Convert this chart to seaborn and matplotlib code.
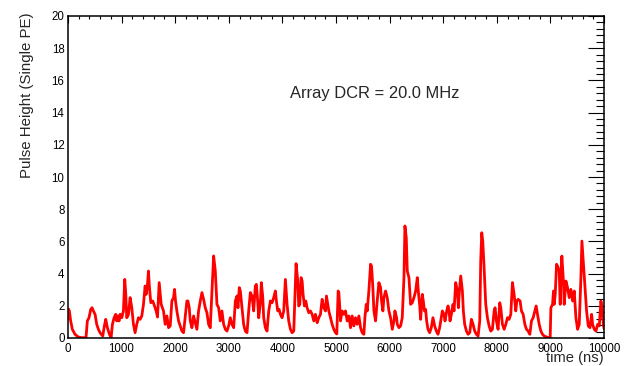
import numpy as np
import pandas as pd
import matplotlib
matplotlib.use('Agg')
import matplotlib.pyplot as plt
from matplotlib.ticker import MultipleLocator
import seaborn as sns

# waveform, one row per microsecond
time_ns = [
    0, 10, 25, 50, 81, 130, 193, 255, 336, 361, 392, 424, 449, 474, 505, 536, 567, 598, 648, 679, 704, 735, 773, 804, 829, 860, 891, 910, 928, 953, 972,
    1003, 1034, 1059, 1078, 1096, 1128, 1159, 1190, 1221, 1252, 1283, 1314, 1346, 1377, 1408, 1439, 1458, 1483, 1501, 1520, 1545, 1582, 1614, 1645, 1670, 1701, 1739, 1782, 1813, 1845, 1876, 1907, 1938, 1969, 1988,
    2006, 2031, 2063, 2125, 2156, 2218, 2237, 2262, 2281, 2312, 2343, 2374, 2405, 2436, 2468, 2499, 2530, 2561, 2592, 2623, 2654, 2686, 2717, 2748, 2779, 2810, 2841, 2872, 2904, 2935, 2966, 2997,
    3028, 3059, 3091, 3122, 3153, 3171, 3196, 3215, 3246, 3277, 3308, 3340, 3371, 3402, 3433, 3464, 3495, 3514, 3539, 3558, 3589, 3607, 3632, 3651, 3682, 3713, 3745, 3776, 3807, 3838, 3869, 3888, 3913, 3938, 3963, 3994,
    4025, 4056, 4087, 4118, 4150, 4181, 4212, 4255, 4287, 4305, 4324, 4349, 4368, 4386, 4411, 4436, 4461, 4492, 4523, 4555, 4586, 4617, 4648, 4679, 4710, 4741, 4773, 4804, 4822, 4847, 4866, 4897, 4928, 4959, 4991,
    5015, 5040, 5053, 5071, 5084, 5115, 5146, 5177, 5209, 5240, 5271, 5302, 5333, 5364, 5395, 5427, 5458, 5489, 5520, 5539, 5564, 5582, 5613, 5645, 5663, 5688, 5707, 5738, 5769, 5800, 5832, 5850, 5875, 5894, 5925, 5956, 5987,
    6018, 6050, 6081, 6099, 6131, 6143, 6174, 6205, 6236, 6268, 6286, 6311, 6330, 6361, 6392, 6423, 6455, 6486, 6517, 6535, 6560, 6579, 6610, 6629, 6650, 6672, 6691, 6716, 6747, 6778, 6809, 6841, 6872, 6903, 6934, 6965, 6984,
    7015, 7034, 7065, 7090, 7109, 7127, 7152, 7183, 7202, 7233, 7264, 7283, 7302, 7327, 7358, 7376, 7401, 7433, 7464, 7495, 7526, 7557, 7588, 7619, 7651, 7682, 7700, 7719, 7738, 7763, 7794, 7825, 7856, 7887, 7918, 7950, 7968, 7993,
    8024, 8055, 8074, 8105, 8137, 8168, 8199, 8230, 8261, 8292, 8323, 8354, 8373, 8398, 8435, 8460, 8492, 8523, 8554, 8585, 8616, 8647, 8678, 8710, 8734, 8759, 8791, 8822, 8853, 8884, 8946, 8996,
    9009, 9040, 9058, 9071, 9090, 9115, 9133, 9164, 9183, 9196, 9214, 9239, 9258, 9289, 9320, 9351, 9382, 9414, 9445, 9476, 9507, 9538, 9569, 9588, 9613, 9632, 9650, 9675, 9706, 9738, 9769, 9787, 9819, 9850, 9881, 9912, 9943, 9962, 9987, 10000,
]

pulse_pe = [
    1.20, 1.80, 1.68, 1.06, 0.54, 0.23, 0.06, 0.02, 0.02, 1.06, 1.26, 1.78, 1.88, 1.68, 1.47, 0.85, 0.54, 0.33, 0.12, 0.75, 1.16, 0.64, 0.23, 0.02, 0.85, 1.26, 1.47, 1.06, 1.37, 1.06, 1.47,
    1.26, 1.68, 3.64, 2.71, 1.26, 1.47, 2.51, 1.88, 0.85, 0.33, 0.85, 1.26, 1.16, 1.37, 2.09, 3.23, 2.71, 3.33, 4.16, 3.13, 2.19, 2.30, 1.99, 1.68, 1.30, 3.44, 2.09, 1.68, 0.85, 1.37, 0.64, 0.75, 2.30, 2.51, 3.02,
    2.30, 1.68, 1.06, 0.43, 0.33, 2.30, 2.30, 1.88, 1.06, 0.64, 1.37, 0.95, 0.54, 1.68, 2.30, 2.82, 2.40, 1.88, 1.57, 0.85, 0.64, 2.92, 5.10, 4.16, 2.09, 1.88, 1.06, 1.68, 0.85, 0.54, 0.43, 0.75,
    1.26, 0.85, 0.64, 2.30, 2.61, 1.88, 3.13, 2.92, 1.88, 0.85, 0.43, 0.33, 1.68, 2.82, 2.61, 1.68, 3.23, 3.33, 2.30, 1.26, 2.19, 3.44, 2.61, 1.26, 0.64, 0.43, 1.68, 2.30, 2.19, 2.51, 2.92, 2.30, 1.68, 1.78, 1.47, 1.26,
    1.68, 3.64, 2.09, 1.06, 0.54, 0.33, 0.43, 4.62, 3.54, 1.99, 2.09, 3.75, 3.54, 2.71, 1.99, 2.30, 1.88, 1.57, 1.68, 1.47, 1.06, 1.47, 0.95, 1.26, 1.47, 2.40, 1.88, 1.68, 2.61, 2.09, 1.68, 1.26, 0.85, 0.54, 0.33,
    0.25, 2.92, 2.82, 1.88, 1.06, 1.68, 1.47, 1.68, 1.06, 1.37, 0.64, 1.37, 0.75, 1.26, 0.85, 1.37, 0.64, 0.33, 0.23, 1.26, 2.09, 1.68, 2.92, 4.58, 4.47, 3.13, 1.68, 1.06, 2.30, 3.44, 3.13, 2.30, 1.68, 2.51, 2.92, 2.51, 1.68,
    1.26, 0.54, 1.06, 1.68, 1.26, 0.85, 0.64, 0.75, 1.26, 3.75, 6.96, 6.23, 4.16, 3.75, 2.09, 2.19, 2.51, 2.92, 3.75, 2.92, 2.09, 1.16, 2.71, 2.30, 1.68, 1.78, 1.06, 0.54, 0.33, 0.64, 1.26, 0.75, 0.43, 0.23, 0.64, 1.26, 1.68,
    1.47, 1.06, 1.68, 1.99, 1.68, 1.06, 1.47, 2.09, 1.68, 3.44, 2.92, 1.88, 2.92, 3.85, 2.92, 1.68, 0.85, 0.43, 0.23, 0.33, 1.16, 0.85, 0.43, 0.23, 0.12, 1.06, 4.78, 6.54, 6.02, 4.37, 2.09, 1.26, 0.75, 0.43, 0.54, 1.68, 1.88, 1.06,
    0.54, 2.19, 1.88, 0.85, 0.54, 0.85, 1.26, 1.16, 1.47, 3.44, 2.71, 1.68, 2.30, 2.40, 2.30, 1.68, 1.47, 0.85, 0.54, 0.43, 0.23, 1.06, 1.26, 1.68, 1.99, 1.47, 0.85, 0.43, 0.23, 0.12, 0.04, 0.02,
    1.88, 2.09, 2.92, 2.09, 2.71, 4.58, 4.47, 4.16, 2.09, 3.95, 5.09, 3.75, 2.09, 3.54, 3.13, 2.51, 3.02, 2.30, 2.92, 1.26, 0.54, 0.85, 3.75, 6.02, 4.78, 3.75, 2.92, 1.68, 0.75, 0.64, 1.47, 0.85, 0.54, 0.43, 0.85, 0.75, 2.30, 1.88, 0.85, 0.60,
]

x_ticks = [0, 1000, 2000, 3000, 4000, 5000, 6000, 7000, 8000, 9000, 10000]
y_ticks = [0, 2, 4, 6, 8, 10, 12, 14, 16, 18, 20]
label_text = 'Array DCR = 20.0 MHz'

assert len(time_ns) == len(pulse_pe)
df = pd.DataFrame({'time': time_ns, 'height': pulse_pe})

sns.set_style('white')
plt.rcParams['font.family'] = ['Liberation Sans', 'DejaVu Sans']

fig = plt.figure(figsize=(6.25, 3.66), dpi=100)
ax = fig.add_axes([68 / 625, 28 / 366, 536 / 625, 322 / 366])

sns.lineplot(data=df, x='time', y='height', color='#ff0000', linewidth=2.0,
             estimator=None, sort=False, ax=ax)

ax.set_xlim(0, 10000)
ax.set_ylim(0, 20)
ax.set_xticks(x_ticks)
ax.set_yticks(y_ticks)
ax.xaxis.set_minor_locator(MultipleLocator(200))
ax.yaxis.set_minor_locator(MultipleLocator(0.4))

for s in ax.spines.values():
    s.set_linewidth(1.1)
    s.set_color('black')

ax.tick_params(axis='both', which='both', direction='in', top=True, right=True,
               width=0.8, color='black', labelsize=8.3, labelcolor='black')
ax.tick_params(axis='x', which='major', length=5, pad=3.5)
ax.tick_params(axis='x', which='minor', length=2.5)
ax.tick_params(axis='y', which='major', length=11.5, pad=2.5)
ax.tick_params(axis='y', which='minor', length=5.8)

ax.set_xlabel('time (ns)', fontsize=10.6, loc='right', va='top')
ax.xaxis.set_label_coords(1.0, -(351 - 338) / 322)
ax.set_ylabel('Pulse Height (Single PE)', fontsize=10.8, loc='top', va='center')
ax.yaxis.set_label_coords(-(68 - 27) / 536, 1.0 + 4 / 322)

ax.text(4150, 14.9, label_text, fontsize=11.9, ha='left', va='baseline')

fig.savefig('out.png', dpi=100, facecolor='white')
